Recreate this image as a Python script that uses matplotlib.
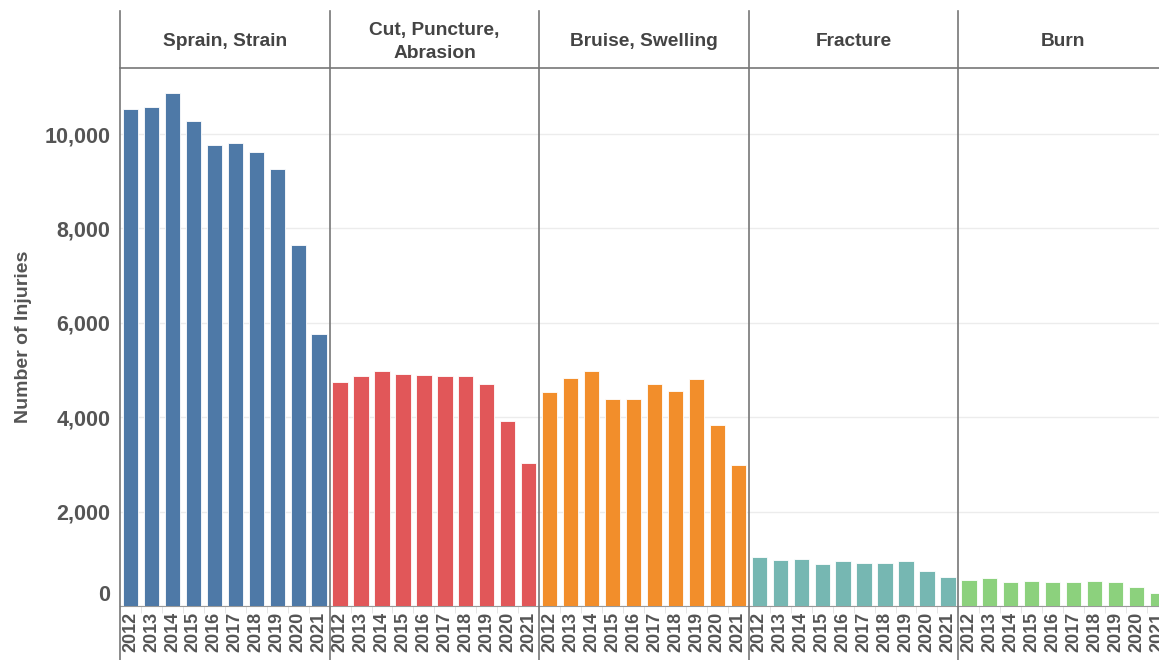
import matplotlib.pyplot as plt
from matplotlib.lines import Line2D

years = ['2012', '2013', '2014', '2015', '2016', '2017', '2018', '2019', '2020', '2021']
categories = ['Sprain, Strain', 'Cut, Puncture,\nAbrasion', 'Bruise, Swelling', 'Fracture', 'Burn']

sprain = [10540, 10580, 10870, 10270, 9760, 9820, 9610, 9260, 7640, 5760]
cut = [4745, 4865, 4985, 4920, 4900, 4865, 4865, 4710, 3930, 3040]
bruise = [4535, 4830, 4985, 4385, 4385, 4710, 4560, 4800, 3840, 2980]
fracture = [1035, 980, 1000, 885, 945, 915, 915, 945, 740, 620]
burn = [555, 585, 500, 525, 500, 500, 525, 500, 410, 285]

values = [sprain, cut, bruise, fracture, burn]
colors = ['#4e79a7', '#e15759', '#f28e2b', '#76b7b2', '#8cd17d']

W, H = 1159, 660
fig = plt.figure(figsize=(W / 100, H / 100), dpi=100)
plt.rcParams['font.family'] = ['Liberation Sans', 'DejaVu Sans']

text_color = '#555555'
sep_color = '#777777'

# pixel layout
left_px = 120
panel_w = 209.6
top_px = 68
bottom_px = 606

for i, (cat, vals, col) in enumerate(zip(categories, values, colors)):
    x0 = left_px + i * panel_w
    ax = fig.add_axes([x0 / W, 1 - bottom_px / H, panel_w / W, (bottom_px - top_px) / H])
    ax.bar(range(10), vals, width=0.73, color=col, edgecolor='white', linewidth=0.6, zorder=3)
    ax.set_xlim(-0.5, 9.5)
    ax.set_ylim(0, 11400)
    ax.set_yticks([0, 2000, 4000, 6000, 8000, 10000])
    ax.grid(axis='y', color='#ececec', linewidth=1, zorder=0)
    for s in ['top', 'right', 'left']:
        ax.spines[s].set_visible(False)
    ax.spines['bottom'].set_color('#999999')
    ax.set_xticks(range(10))
    ax.set_xticklabels(years, rotation=90, fontsize=13, fontweight='bold', color=text_color)
    ax.set_xticks([j + 0.5 for j in range(-1, 10)], minor=True)
    ax.tick_params(axis='x', which='major', length=0, pad=4)
    ax.tick_params(axis='x', which='minor', length=5, color='#e0e0e0')
    ax.tick_params(axis='y', length=0)
    if i == 0:
        ax.set_yticklabels(['0', '2,000', '4,000', '6,000', '8,000', '10,000'],
                           fontsize=15.5, fontweight='bold', color=text_color)
        ax.get_yticklabels()[0].set_va('bottom')
        ax.tick_params(axis='y', pad=7)
        ax.set_ylabel('Number of Injuries', fontsize=14, fontweight='bold', color=text_color, labelpad=9)
    else:
        ax.set_yticklabels([])

    # header text
    fig.text((x0 + panel_w / 2) / W, 1 - 42 / H, cat, ha='center', va='center',
             fontsize=13.8, fontweight='bold', color='#444444', linespacing=1.4)

# panel separators
for i in range(6):
    x = (left_px + i * panel_w) / W
    fig.add_artist(Line2D([x, x], [0, 1 - 11 / H], color=sep_color, linewidth=1.2))

# header bottom line
fig.add_artist(Line2D([left_px / W, 1], [1 - top_px / H] * 2, color=sep_color, linewidth=1.2))

fig.savefig('out.png', dpi=100)
